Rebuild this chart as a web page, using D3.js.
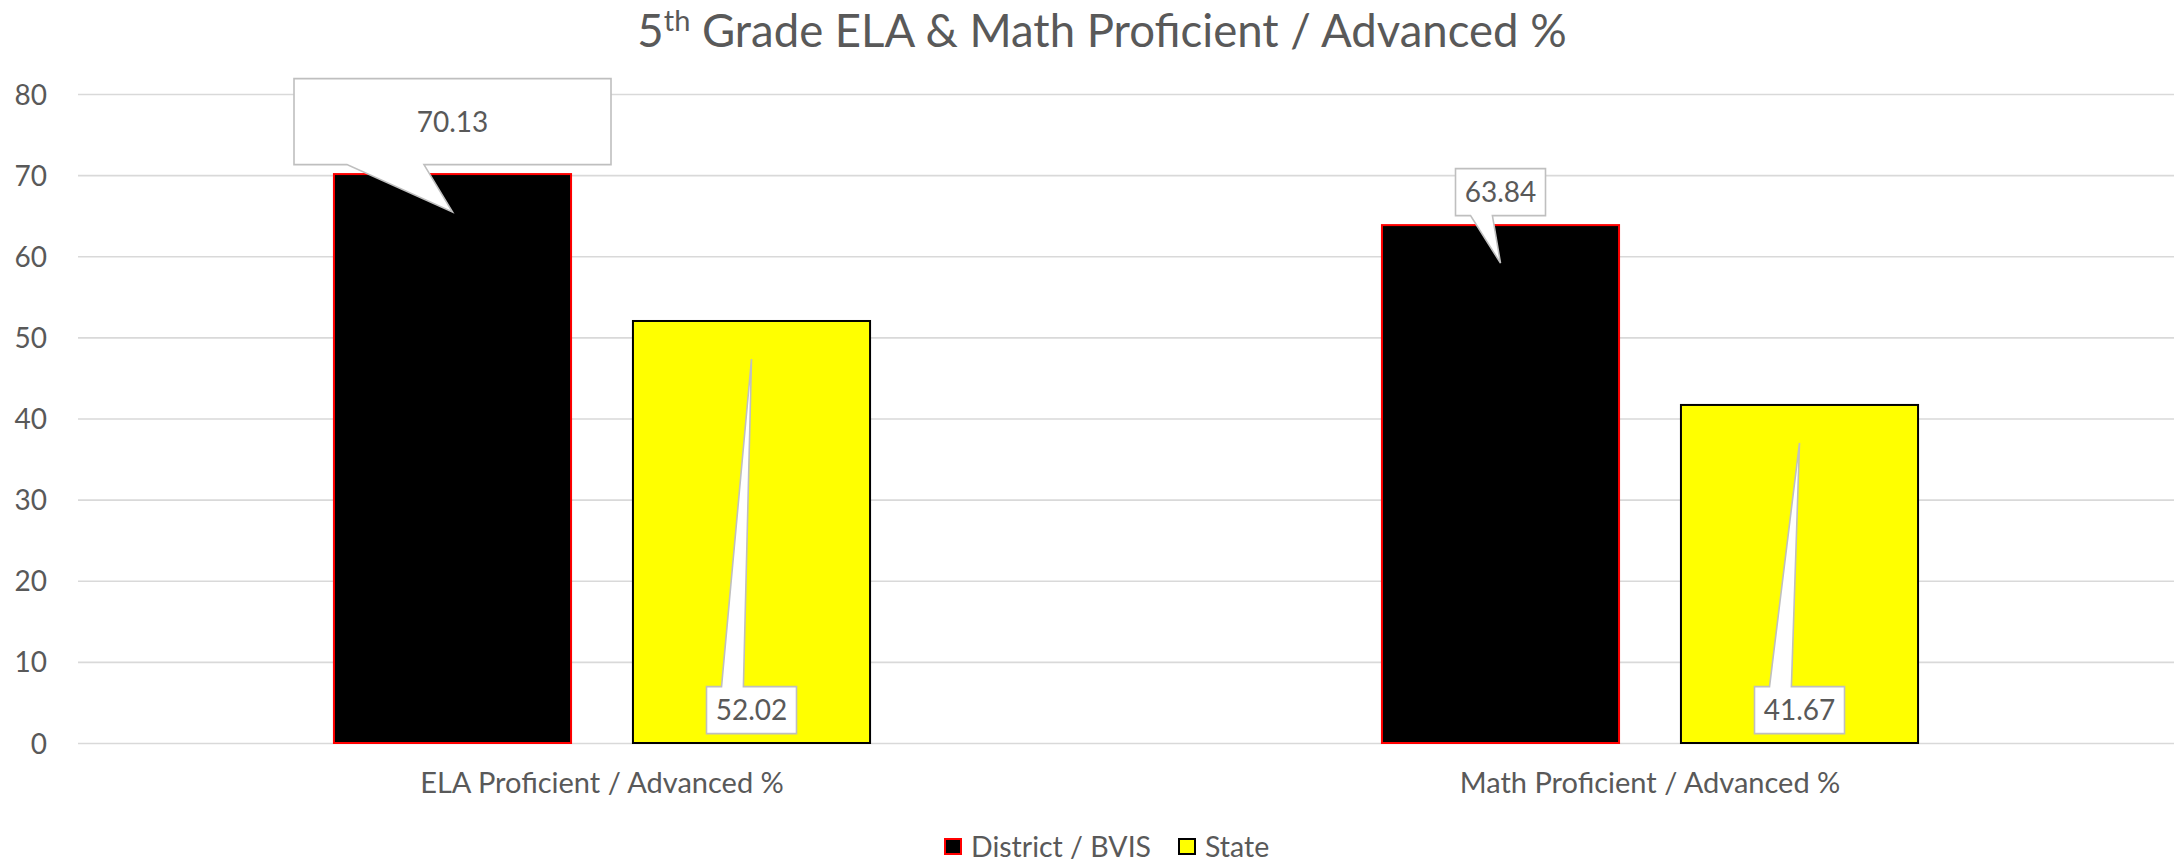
<!DOCTYPE html>
<html>
<head>
<meta charset="utf-8">
<script src="https://cdn.jsdelivr.net/npm/d3@7"></script>
<style>
  html, body { margin: 0; padding: 0; background: #ffffff; }
  svg { display: block; }
  text { font-family: Lato, "Noto Sans", sans-serif; fill: #595959; }
</style>
</head>
<body>
<svg id="chart" width="2178" height="862"></svg>
<script>
// ---- data ----
const categories = ["ELA Proficient / Advanced %", "Math Proficient / Advanced %"];
const seriesNames = ["District / BVIS", "State"];
const districtValues = [70.13, 63.84];
const stateValues = [52.02, 41.67];
const yTicks = [0, 10, 20, 30, 40, 50, 60, 70, 80];
const titleMain = "5";
const titleSup = "th";
const titleRest = " Grade ELA & Math Proficient / Advanced %";

// ---- layout / style (not data) ----
const W = 2178, H = 862;
const plot = { left: 78, right: 2174, top: 94, bottom: 743 };
const colors = { "District / BVIS": { fill: "#000000", stroke: "#ff0000" },
                 "State": { fill: "#ffff00", stroke: "#000000" } };
// callout box centre (in value units), box size in px
const calloutLayout = {
  "District / BVIS": [ { cy: 76.6, w: 317, h: 86 }, { cy: 67.9, w: 90, h: 47 } ],
  "State":           [ { cy: 4.05, w: 90, h: 47 }, { cy: 4.05, w: 90, h: 47 } ]
};

const svg = d3.select("#chart");

const x0 = d3.scaleBand().domain(categories).range([plot.left, plot.right]).paddingInner(0).paddingOuter(0);
const x1 = d3.scaleBand().domain(seriesNames).range([0, x0.bandwidth()]).paddingInner(0.207).paddingOuter(0.856);
const y = d3.scaleLinear().domain([0, 80]).range([plot.bottom, plot.top]);

const rows = [];
categories.forEach((c, i) => {
  rows.push({ cat: c, series: "District / BVIS", value: districtValues[i], idx: i });
  rows.push({ cat: c, series: "State", value: stateValues[i], idx: i });
});

// gridlines
const yAxis = d3.axisLeft(y).tickValues(yTicks).tickSize(-(plot.right - plot.left)).tickPadding(31).tickFormat(d3.format("d"));
const gY = svg.append("g").attr("transform", `translate(${plot.left},0)`).call(yAxis);
gY.select(".domain").remove();
gY.selectAll(".tick line").attr("stroke", "#d9d9d9").attr("stroke-width", 1.6);
gY.selectAll(".tick text").style("font-size", "28px").attr("fill", "#595959").attr("dy", "0.36em");

// bars
svg.append("g").selectAll("rect").data(rows).join("rect")
  .attr("x", d => x0(d.cat) + x1(d.series))
  .attr("y", d => y(d.value))
  .attr("width", x1.bandwidth())
  .attr("height", d => y(0) - y(d.value))
  .attr("fill", d => colors[d.series].fill)
  .attr("stroke", d => colors[d.series].stroke)
  .attr("stroke-width", 2);

// callouts
const cg = svg.append("g");
rows.forEach(d => {
  const L = calloutLayout[d.series][d.idx];
  const cx = x0(d.cat) + x1(d.series) + x1.bandwidth() / 2;
  const cy = y(L.cy);
  const bx0 = cx - L.w / 2, bx1 = cx + L.w / 2;
  const by0 = cy - L.h / 2, by1 = cy + L.h / 2;
  const tipX = cx, tipY = y(d.value) + 38;
  const pb0 = bx0 + L.w * 0.167, pb1 = bx0 + L.w * 0.41;
  let p;
  if (tipY > by1) {
    p = `M${bx0},${by0}H${bx1}V${by1}H${pb1}L${tipX},${tipY}L${pb0},${by1}H${bx0}Z`;
  } else {
    p = `M${bx0},${by0}H${pb0}L${tipX},${tipY}L${pb1},${by0}H${bx1}V${by1}H${bx0}Z`;
  }
  cg.append("path").attr("d", p).attr("fill", "#ffffff").attr("stroke", "#bfbfbf").attr("stroke-width", 1.6).attr("stroke-linejoin", "miter");
  cg.append("text").attr("x", cx).attr("y", cy).attr("dy", "0.36em")
    .attr("text-anchor", "middle").style("font-size", "28px").text(d.value.toFixed(2));
});

// category labels
const xAxis = d3.axisBottom(x0).tickSize(0).tickPadding(0);
const gX = svg.append("g").attr("transform", `translate(0,${plot.bottom})`).call(xAxis);
gX.select(".domain").remove();
gX.selectAll(".tick text").style("font-size", "29px").attr("fill", "#595959").attr("y", 50).attr("dy", 0);

// title
const t = svg.append("text").attr("x", 1102).attr("y", 47).attr("text-anchor", "middle").style("font-size", "45.5px");
t.append("tspan").text(titleMain);
t.append("tspan").attr("dy", -16).style("font-size", "29px").text(titleSup);
t.append("tspan").attr("dy", 16).text(titleRest);

// legend
const legendX = [944, 1178];
const lg = svg.append("g");
seriesNames.forEach((s, i) => {
  lg.append("rect").attr("x", legendX[i] + 1).attr("y", 839).attr("width", 16).attr("height", 15)
    .attr("fill", colors[s].fill).attr("stroke", colors[s].stroke).attr("stroke-width", 2);
  lg.append("text").attr("x", legendX[i] + 27).attr("y", 846.5).attr("dy", "0.36em").style("font-size", "28.5px").text(s);
});
</script>
</body>
</html>
